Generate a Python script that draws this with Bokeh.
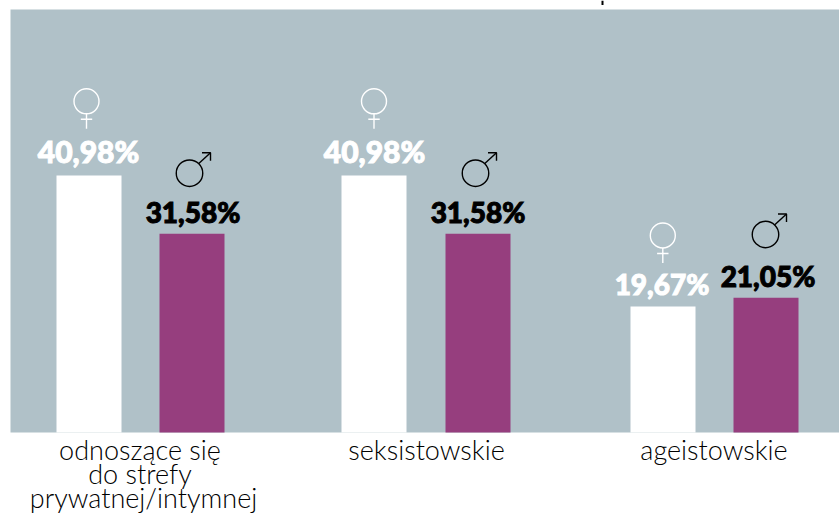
from bokeh.plotting import figure
from bokeh.models import Range1d
from bokeh.core.properties import value
from bokeh.embed import file_html
from bokeh.resources import INLINE

categories = [["odnoszące się", "do strefy", "prywatnej/intymnej"], ["seksistowskie"], ["ageistowskie"]]
women_labels = ["40,98%", "40,98%", "19,67%"]
men_labels = ["31,58%", "31,58%", "21,05%"]
women_heights = [41.0, 41.0, 20.1]
men_heights = [31.7, 31.7, 21.5]

# layout (page pixels)
K = 6.27
W, H, FX0, FY0, FY1 = 839, 513, 10, 9, 432
line_x = [[139.5, 139.5, 143], [426], [713.5]]
women_x = [88.5, 373.5, 662.5]
men_x = [191.5, 477.5, 765.5]
women_label_x = [88, 374, 661.5]
men_label_x = [192.5, 477.5, 767.5]
women_label_gap = [-5, -5, -6]
men_label_gap = [-6, -6, -6]
women_sizes = ["30px", "30px", "28px"]
men_sizes = ["28px", "28px", "28px"]
women_icon = [(86, 100.8), (373.5, 100.8), (662.3, 235)]
men_icon = [(189, 172.7), (475, 172.7), (765, 234)]
BG, PURPLE = "#b0c1c8", "#963e7e"

def Y(py):
    return (FY1 - py) / K

p = figure(width=W, height=H, output_backend="svg", toolbar_location=None,
           x_range=Range1d(0, W), y_range=Range1d(Y(H), Y(0)),
           min_border_left=0, min_border_right=0, min_border_top=0, min_border_bottom=0,
           background_fill_color="white", border_fill_color="white",
           outline_line_color=None, x_axis_location=None, y_axis_location=None)
p.grid.visible = False

p.quad(left=FX0, right=W, bottom=0, top=Y(FY0), fill_color=BG, line_color=None)
p.vbar(x=women_x, top=women_heights, bottom=0, width=65, fill_color="white", line_color=None)
p.vbar(x=men_x, top=men_heights, bottom=0, width=65, fill_color=PURPLE, line_color=None)

font = value("Lato Black")
for xs, hs, gaps, labels, sizes, col in [
    (women_label_x, women_heights, women_label_gap, women_labels, women_sizes, "white"),
    (men_label_x, men_heights, men_label_gap, men_labels, men_sizes, "black"),
]:
    for x, h, g, t, s in zip(xs, hs, gaps, labels, sizes):
        p.text(x=[x], y=[h + (11 + g) / K], text=[t], text_color=col, text_outline_color=col,
               text_font=font, text_font_size=s, text_align="center", text_baseline="bottom")

# symbols
for cx, cy in women_icon:
    p.scatter([cx], [Y(cy)], marker="circle", size=25, fill_color=None, line_color="white", line_width=1.4)
    p.line([cx, cx], [Y(cy + 12.5), Y(cy + 27.5)], line_color="white", line_width=1.4)
    p.line([cx - 5.7, cx + 5.7], [Y(cy + 18), Y(cy + 18)], line_color="white", line_width=1.4)
for cx, cy in men_icon:
    tx, ty = cx + 21, cy - 20.5
    p.scatter([cx], [Y(cy)], marker="circle", size=26.5, fill_color=None, line_color="black", line_width=1.4)
    p.line([cx + 9, tx], [Y(cy - 9.5), Y(ty)], line_color="black", line_width=1.4)
    p.line([tx - 8.5, tx, tx], [Y(ty), Y(ty), Y(ty + 8)], line_color="black", line_width=1.4)

# category labels
for xs, lines in zip(line_x, categories):
    for i, (cx, line) in enumerate(zip(xs, lines)):
        p.text(x=[cx], y=[Y(465 + 24 * i)], text=[line], text_font=value("Lato Light"),
               text_font_size="27px", text_color="black",
               text_align="center", text_baseline="bottom")

# stray mark above the panel
p.quad(left=601, right=603, top=Y(0), bottom=Y(4.5), fill_color="black", line_color=None)

open("out.html", "w").write(file_html(p, INLINE))
